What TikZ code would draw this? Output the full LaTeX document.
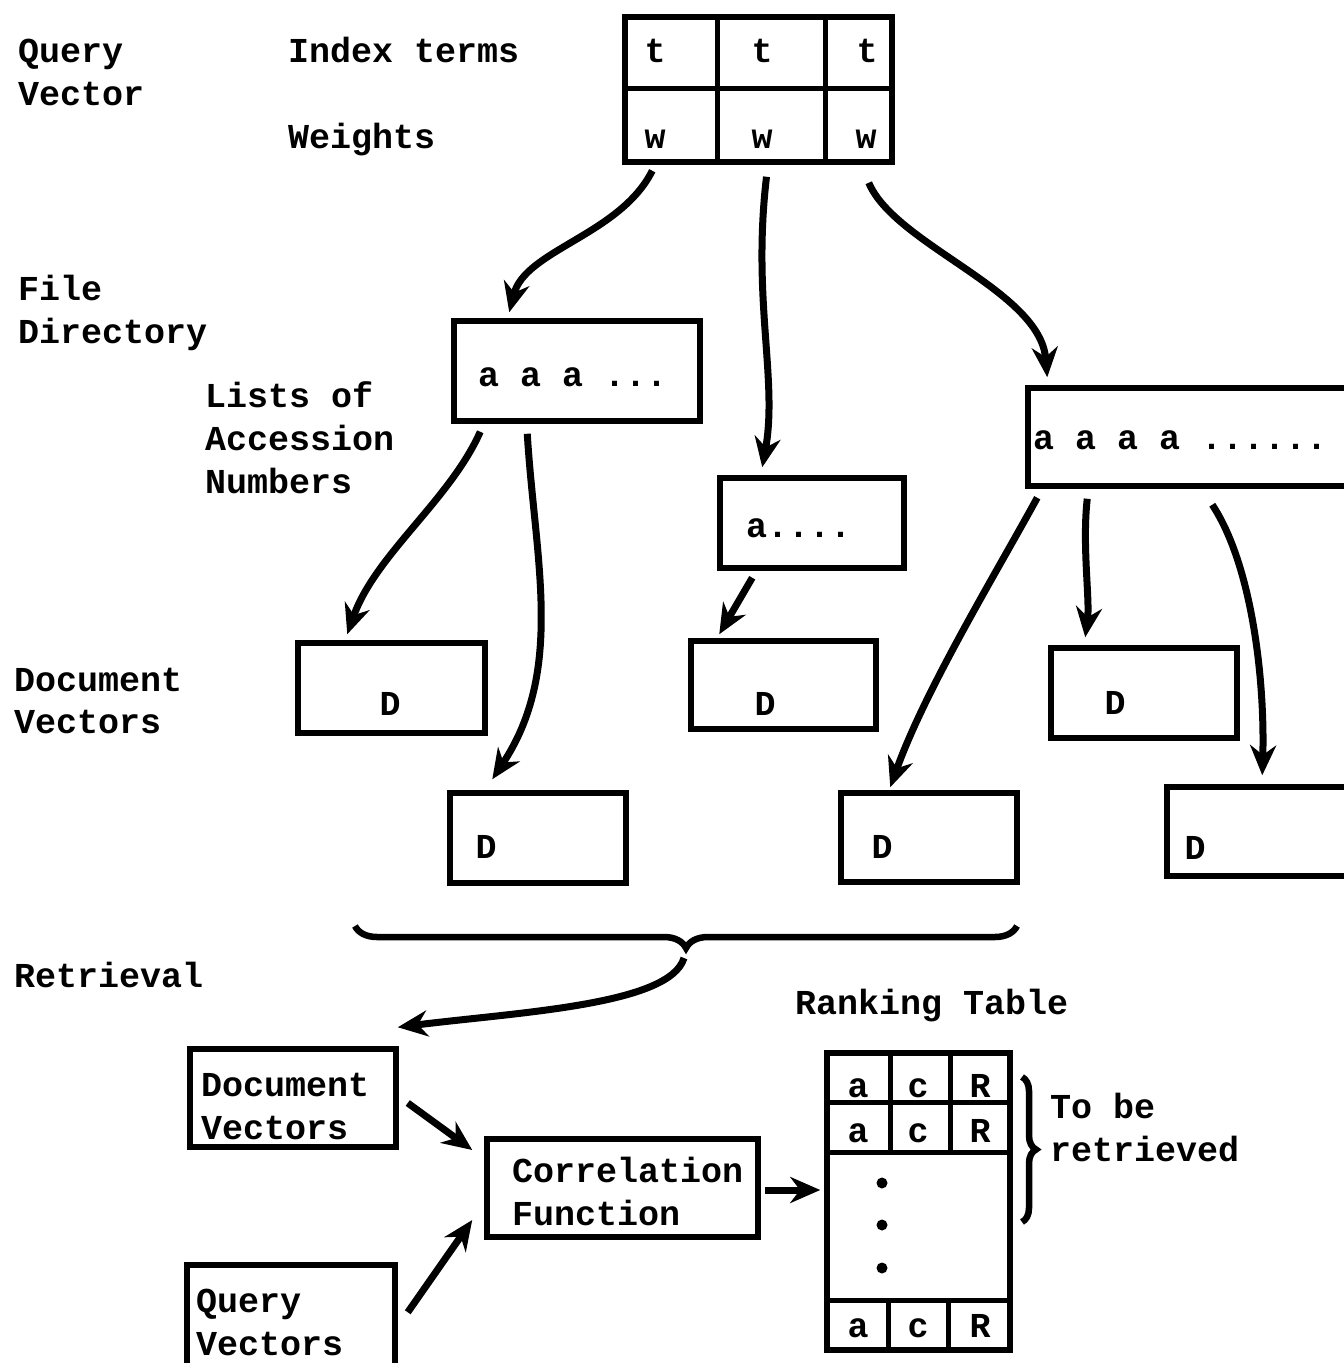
\documentclass[tikz,border=0pt]{standalone}
\usepackage{fontspec}
\setmonofont{Liberation Mono}
\usetikzlibrary{arrows.meta,decorations.pathreplacing,calc}
\begin{document}
\begin{tikzpicture}[x=1pt,y=-1pt,
  txt/.style={font=\fontsize{35}{43}\selectfont\ttfamily\bfseries, inner sep=0pt, anchor=base west},
  ctxt/.style={font=\fontsize{35}{43}\selectfont\ttfamily\bfseries, inner sep=0pt, anchor=base},
  box/.style={draw, line width=5.5pt, inner sep=0pt, rectangle},
  arr/.style={line width=7pt, -{Stealth[length=30pt,width=26pt]}},
  rulel/.style={line width=5pt},
  brc/.style={line width=6.5pt, decorate}]
\clip (0,0) rectangle (1344,1363);
\fill[white] (0,0) rectangle (1344,1363);

% left labels
\node[txt] (q1) at (18,62) {Query};
\node[txt] (q2) at (18,105) {Vector};
\node[txt] (it) at (288,62) {Index terms};
\node[txt] (wt) at (288,148) {Weights};
\node[txt] (f1) at (18,300) {File};
\node[txt] (f2) at (18,343) {Directory};
\node[txt] (l1) at (205,407) {Lists of};
\node[txt] (l2) at (205,450) {Accession};
\node[txt] (l3) at (205,493) {Numbers};
\node[txt] (d1l) at (14,691) {Document};
\node[txt] (d2l) at (14,733) {Vectors};
\node[txt] (ret) at (14,987) {Retrieval};
\node[txt] (rkt) at (795,1014) {Ranking Table};
\node[txt] (tb1) at (1050,1118) {To be};
\node[txt] (tb2) at (1050,1161) {retrieved};

% top table
\node[box, minimum width=267pt, minimum height=145pt] (T) at (758.5,89.5) {};
\draw[rulel] (T.west |- 0,88) -- (T.east |- 0,88);
\draw[rulel] (717,0 |- T.north) -- (717,0 |- T.south);
\draw[rulel] (825,0 |- T.north) -- (825,0 |- T.south);
\node[ctxt] (t1) at (655,62) {t};
\node[ctxt] (t2) at (762,62) {t};
\node[ctxt] (t3) at (867,62) {t};
\node[ctxt] (w1) at (655,148) {w};
\node[ctxt] (w2) at (762,148) {w};
\node[ctxt] (w3) at (866,148) {w};

% accession lists
\node[box, minimum width=246pt, minimum height=100pt] (A1) at (577,371) {};
\node[txt] (A1t) at (478,386) {a a a ...};
\node[box, minimum width=184pt, minimum height=90pt] (A2) at (812,523) {};
\node[txt] (A2t) at (746,537) {a....};
\node[box, minimum width=352pt, minimum height=98pt] (A3) at (1204,437) {};
\node[txt] (A3t) at (1033,449) {a a a a ......};

% document vectors
\node[box, minimum width=187pt, minimum height=90pt] (D1) at (391.5,688) {};
\node[ctxt] (D1t) at (390,715) {D};
\node[box, minimum width=185pt, minimum height=88pt] (D2) at (783.5,685) {};
\node[ctxt] (D2t) at (765,715) {D};
\node[box, minimum width=186pt, minimum height=90pt] (D3) at (1144,693) {};
\node[ctxt] (D3t) at (1115,714) {D};
\node[box, minimum width=176pt, minimum height=90pt] (D4) at (538,838) {};
\node[ctxt] (D4t) at (486,858) {D};
\node[box, minimum width=176pt, minimum height=89pt] (D5) at (929,837.5) {};
\node[ctxt] (D5t) at (882,858) {D};
\node[box, minimum width=213pt, minimum height=89pt] (D6) at (1273.5,831.5) {};
\node[ctxt] (D6t) at (1195,859) {D};

% arrows from query terms
\draw[arr] ($(T.south west)+(30,6)$) .. controls (620,235) and (525,250) .. ($(A1.north west)+(58,-6)$);
\draw[arr] ($(T.south)+(8,12)$) .. controls (752,300) and (778,380) .. ($(A2.north west)+(45,-8)$);
\draw[arr] ($(T.south east)+(-26,18)$) .. controls (895,245) and (1040,290) .. ($(A3.north west)+(22,-8)$);

% arrows from lists to documents
\draw[arr] ($(A1.south west)+(29,8)$) .. controls (450,500) and (375,555) .. ($(D1.north west)+(52,-6)$);
\draw[arr] ($(A1.south west)+(76,10)$) .. controls (535,560) and (565,670) .. ($(D4.north west)+(45,-11)$);
\draw[arr] ($(A2.south west)+(35,7)$) -- ($(D2.north west)+(31,-4)$);
\draw[arr] ($(A3.south west)+(12,9)$) .. controls (995,575) and (925,690) .. ($(D5.north west)+(52,-3)$);
\draw[arr] ($(A3.south west)+(62,10)$) .. controls (1082,545) and (1090,600) .. ($(D3.north west)+(37,-8)$);
\draw[arr] ($(A3.south west)+(187,16)$) .. controls (1252,565) and (1265,680) .. ($(D6.north west)+(98,-9)$);

% brace under documents
\coordinate (bl) at (355,926);
\coordinate (br) at (1017,926);
\draw[brc, decoration={brace, mirror, amplitude=22pt}] (bl) -- (br);
\coordinate (bt) at (684,958);

% retrieval part
\node[box, minimum width=206pt, minimum height=98pt] (DV) at (293,1098) {};
\node[txt] (dv1) at (201,1096) {Document};
\node[txt] (dv2) at (201,1139) {Vectors};
\node[box, minimum width=208pt, minimum height=115pt] (QV) at (291,1322.5) {};
\node[txt] (qv1) at (196,1312) {Query};
\node[txt] (qv2) at (196,1355) {Vectors};
\node[box, minimum width=271pt, minimum height=98pt] (CF) at (622.5,1188) {};
\node[txt] (cf1) at (512,1182) {Correlation};
\node[txt] (cf2) at (512,1225) {Function};

\draw[arr] (bt) .. controls (670,1005) and (520,1012) .. ($(DV.north east)+(-1,-19)$);
\draw[arr] ($(DV.east)+(9,5)$) -- ($(CF.west)+(-12,-38)$);
\draw[arr] ($(QV.north east)+(10,50)$) -- ($(CF.west)+(-12,32)$);

% ranking table
\node[box, minimum width=183pt, minimum height=297pt] (RT) at (918.5,1201.5) {};
\draw[rulel] (RT.west |- 0,1102) -- (RT.east |- 0,1102);
\draw[rulel] (RT.west |- 0,1152) -- (RT.east |- 0,1152);
\draw[rulel] (RT.west |- 0,1300) -- (RT.east |- 0,1300);
\draw[rulel] (890,0 |- RT.north) -- (890,1152);
\draw[rulel] (950,0 |- RT.north) -- (950,1152);
\draw[rulel] (888,1300) -- (888,0 |- RT.south);
\draw[rulel] (948,1300) -- (948,0 |- RT.south);
\node[ctxt] (r11) at (858,1097) {a};
\node[ctxt] (r12) at (918,1097) {c};
\node[ctxt] (r13) at (980,1097) {R};
\node[ctxt] (r21) at (858,1142) {a};
\node[ctxt] (r22) at (918,1142) {c};
\node[ctxt] (r23) at (980,1142) {R};
\node[ctxt] (r31) at (858,1337) {a};
\node[ctxt] (r32) at (918,1337) {c};
\node[ctxt] (r33) at (980,1337) {R};
\fill (882,1183) circle (5.5pt);
\fill (882,1225) circle (5.5pt);
\fill (882,1268) circle (5.5pt);
\draw[arr] ($(CF.east)+(4,2)$) -- ($(RT.west |- CF.east)+(-4,2)$);

% brace for retrieved rows
\coordinate (rbt) at (1022,1077);
\coordinate (rbb) at (1022,1222);
\draw[brc, decoration={brace, amplitude=14pt}] (rbt) -- (rbb);
\end{tikzpicture}
\end{document}
